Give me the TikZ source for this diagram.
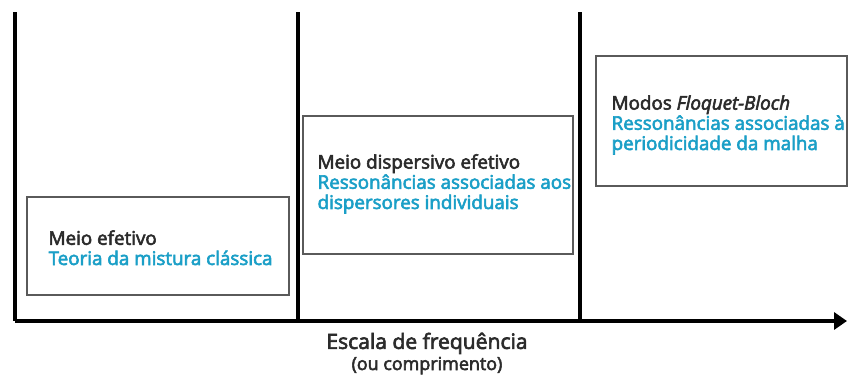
\documentclass[tikz,border=0pt]{standalone}
\usepackage{fontspec}
\setmainfont{Open Sans}[FakeBold=3]
\usepackage{tikz}
\usetikzlibrary{positioning,arrows.meta}
\definecolor{inkgray}{HTML}{2B2B2B}
\definecolor{scalecyan}{HTML}{1A9FC7}
\definecolor{framegray}{HTML}{5A5A5A}

\begin{document}
\begin{tikzpicture}[
      x=0.02cm, y=-0.02cm,
      every node/.style={text=inkgray},
      regime/.style={draw=framegray, line width=0.03cm, fill=white, inner sep=0pt},
      regtext/.style={anchor=base west, align=left, inner sep=0pt, font=\fontsize{10.7pt}{11.5pt}\selectfont},
      divider/.style={line width=0.07cm, black},
      axis/.style={line width=0.07cm, black, -{Triangle[length=0.26cm, width=0.34cm]}},
    ]
    \useasboundingbox (0,0) rectangle (848,379);

    % Axis and dividers
    \coordinate (o) at (15,321);
    \coordinate (xend) at (847,321);
    \coordinate (top0) at (15,12);
    \coordinate (top1) at (298,12);
    \coordinate (bot1) at (298,321);
    \coordinate (top2) at (580,12);
    \coordinate (bot2) at (580,321);
    \draw[divider] (top0) -- (o);
    \draw[divider] (top1) -- (bot1);
    \draw[divider] (top2) -- (bot2);
    \draw[axis] (o) -- (xend);

    % Regime boxes
    \node[regime, minimum width=5.24cm, minimum height=1.96cm] (efetivo) at (158,246) {};
    \node[regime, minimum width=5.4cm, minimum height=2.76cm] (dispersivo) at (438,185) {};
    \node[regime, minimum width=5.02cm, minimum height=2.6cm] (floquet) at (721.5,121) {};

    % Box texts (base = last line)
    \node[regtext] (efetivotxt) at ([xshift=0.44cm, yshift=-0.38cm]efetivo.west)
      {Meio efetivo\\{\color{scalecyan}Teoria da mistura clássica}};
    \node[regtext] (dispersivotxt) at ([xshift=0.3cm, yshift=-0.48cm]dispersivo.west)
      {Meio dispersivo efetivo\\{\color{scalecyan}Ressonâncias associadas aos}\\{\color{scalecyan}dispersores individuais}};
    \node[regtext] (floquettxt) at ([xshift=0.32cm, yshift=-0.58cm]floquet.west)
      {Modos \textit{Floquet-Bloch}\\{\color{scalecyan}Ressonâncias associadas à}\\{\color{scalecyan}periodicidade da malha}};

    % Axis label
    \node[anchor=base, align=center, inner sep=0pt, font=\fontsize{12pt}{12pt}\selectfont] (escala) at (427,370)
      {Escala de frequência\\{\fontsize{10.2pt}{10.8pt}\selectfont (ou comprimento)}};
  \end{tikzpicture}
\end{document}
